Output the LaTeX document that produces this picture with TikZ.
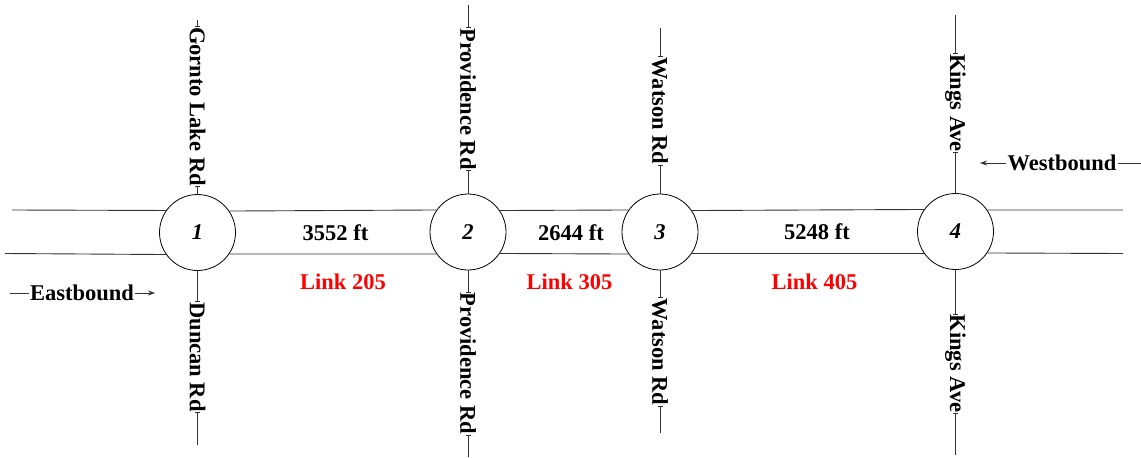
\documentclass[tikz,border=0pt]{standalone}
\usepackage{fontspec}
\setmainfont{Liberation Serif}
\usetikzlibrary{arrows.meta}
\begin{document}
\begin{tikzpicture}[x=1pt,y=-1pt,
  road/.style={draw=black!80, line width=0.9pt},
  junction/.style={circle, draw=black, line width=0.8pt, minimum size=76pt, inner sep=0pt,
    font=\fontsize{22.5}{27}\selectfont\bfseries\itshape},
  street/.style={rotate=-90, inner xsep=0.5pt, inner ysep=0pt,
    font=\fontsize{22.5}{27}\selectfont\bfseries},
  dist/.style={inner sep=0pt, font=\fontsize{22.5}{27}\selectfont\bfseries},
  linklbl/.style={inner sep=0pt, text=red, font=\fontsize{22.5}{27}\selectfont\bfseries},
  dirlbl/.style={inner xsep=1pt, inner ysep=0pt, font=\fontsize{22.5}{27}\selectfont\bfseries},
  tick/.style={draw=black!80, line width=0.8pt},
  arr/.style={-{Stealth[length=7pt,width=5pt]}}
]
\useasboundingbox (0,0) rectangle (1141,458);

% junctions
\node[junction] (c1) at (197.5,232.5) {1};
\node[junction] (c2) at (468,232) {2};
\node[junction] (c3) at (660,232) {3};
\node[junction] (c4) at (955.5,231.5) {4};

% free ends of the main road
\coordinate (wU) at (12,210);
\coordinate (wL) at (5,253.5);
\coordinate (eU) at (1123,210);
\coordinate (eL) at (1123,253.5);

% main road lines
\draw[road] (wU) -- (c1.145.5);
\draw[road] (wL) -- (c1.-145.5);
\draw[road] (c1.34.5) -- (c2.145.5);
\draw[road] (c1.-34.5) -- (c2.-145.5);
\draw[road] (c2.34.5) -- (c3.145.5);
\draw[road] (c2.-34.5) -- (c3.-145.5);
\draw[road] (c3.34.5) -- (c4.145.5);
\draw[road] (c3.-34.5) -- (c4.-145.5);
\draw[road] (c4.34.5) -- (eU);
\draw[road] (c4.-34.5) -- (eL);

% cross streets: ends
\coordinate (t1) at (197.5,20);
\coordinate (b1) at (197.5,445);
\coordinate (t2) at (468,5);
\coordinate (b2) at (468,457);
\coordinate (t3) at (660,28);
\coordinate (b3) at (660,433);
\coordinate (t4) at (955.5,15);
\coordinate (b4) at (955.5,455);

% cross street labels
\node[street] (s1t) at (197.5,106.5) {Gornto Lake Rd};
\node[street] (s1b) at (197.5,357) {Duncan Rd};
\node[street] (s2t) at (468,99) {Providence Rd};
\node[street] (s2b) at (468,363.5) {Providence Rd};
\node[street] (s3t) at (660,111) {Watson Rd};
\node[street] (s3b) at (660,352) {Watson Rd};
\node[street] (s4t) at (955.5,103) {Kings Ave};
\node[street] (s4b) at (955.5,363.5) {Kings Ave};

% cross street lines
\draw[road] (t1) -- (s1t.west);
\draw[road] (s1t.east) -- (c1.north);
\draw[road] (c1.south) -- (s1b.west);
\draw[road] (s1b.east) -- (b1);
\draw[road] (t2) -- (s2t.west);
\draw[road] (s2t.east) -- (c2.north);
\draw[road] (c2.south) -- (s2b.west);
\draw[road] (s2b.east) -- (b2);
\draw[road] (t3) -- (s3t.west);
\draw[road] (s3t.east) -- (c3.north);
\draw[road] (c3.south) -- (s3b.west);
\draw[road] (s3b.east) -- (b3);
\draw[road] (t4) -- (s4t.west);
\draw[road] (s4t.east) -- (c4.north);
\draw[road] (c4.south) -- (s4b.west);
\draw[road] (s4b.east) -- (b4);

% small ticks at label ends
\foreach \n in {s1t,s1b,s2t,s2b,s3t,s3b,s4t,s4b}{
  \draw[tick] ([xshift=-2.5pt]\n.west) -- ([xshift=2.5pt]\n.west);
  \draw[tick] ([xshift=-2.5pt]\n.east) -- ([xshift=2.5pt]\n.east);
}

% distances
\node[dist] (d1) at (335.5,233) {3552 ft};
\node[dist] (d2) at (571,233) {2644 ft};
\node[dist] (d3) at (817,232) {5248 ft};

% link labels
\node[linklbl] (l1) at (343,282) {Link 205};
\node[linklbl] (l2) at (569.5,282) {Link 305};
\node[linklbl] (l3) at (814.5,282) {Link 405};

% direction labels
\node[dirlbl] (eb) at (82,293) {Eastbound};
\coordinate (ebL) at (10,293);
\coordinate (ebR) at (155,293);
\draw[road] (ebL) -- (eb.west);
\draw[road,arr] (eb.east) -- (ebR);

\node[dirlbl] (wb) at (1062,163) {Westbound};
\coordinate (wbL) at (980,163);
\coordinate (wbR) at (1141,163);
\draw[road,arr] (wb.west) -- (wbL);
\draw[road] (wb.east) -- (wbR);
\end{tikzpicture}
\end{document}
